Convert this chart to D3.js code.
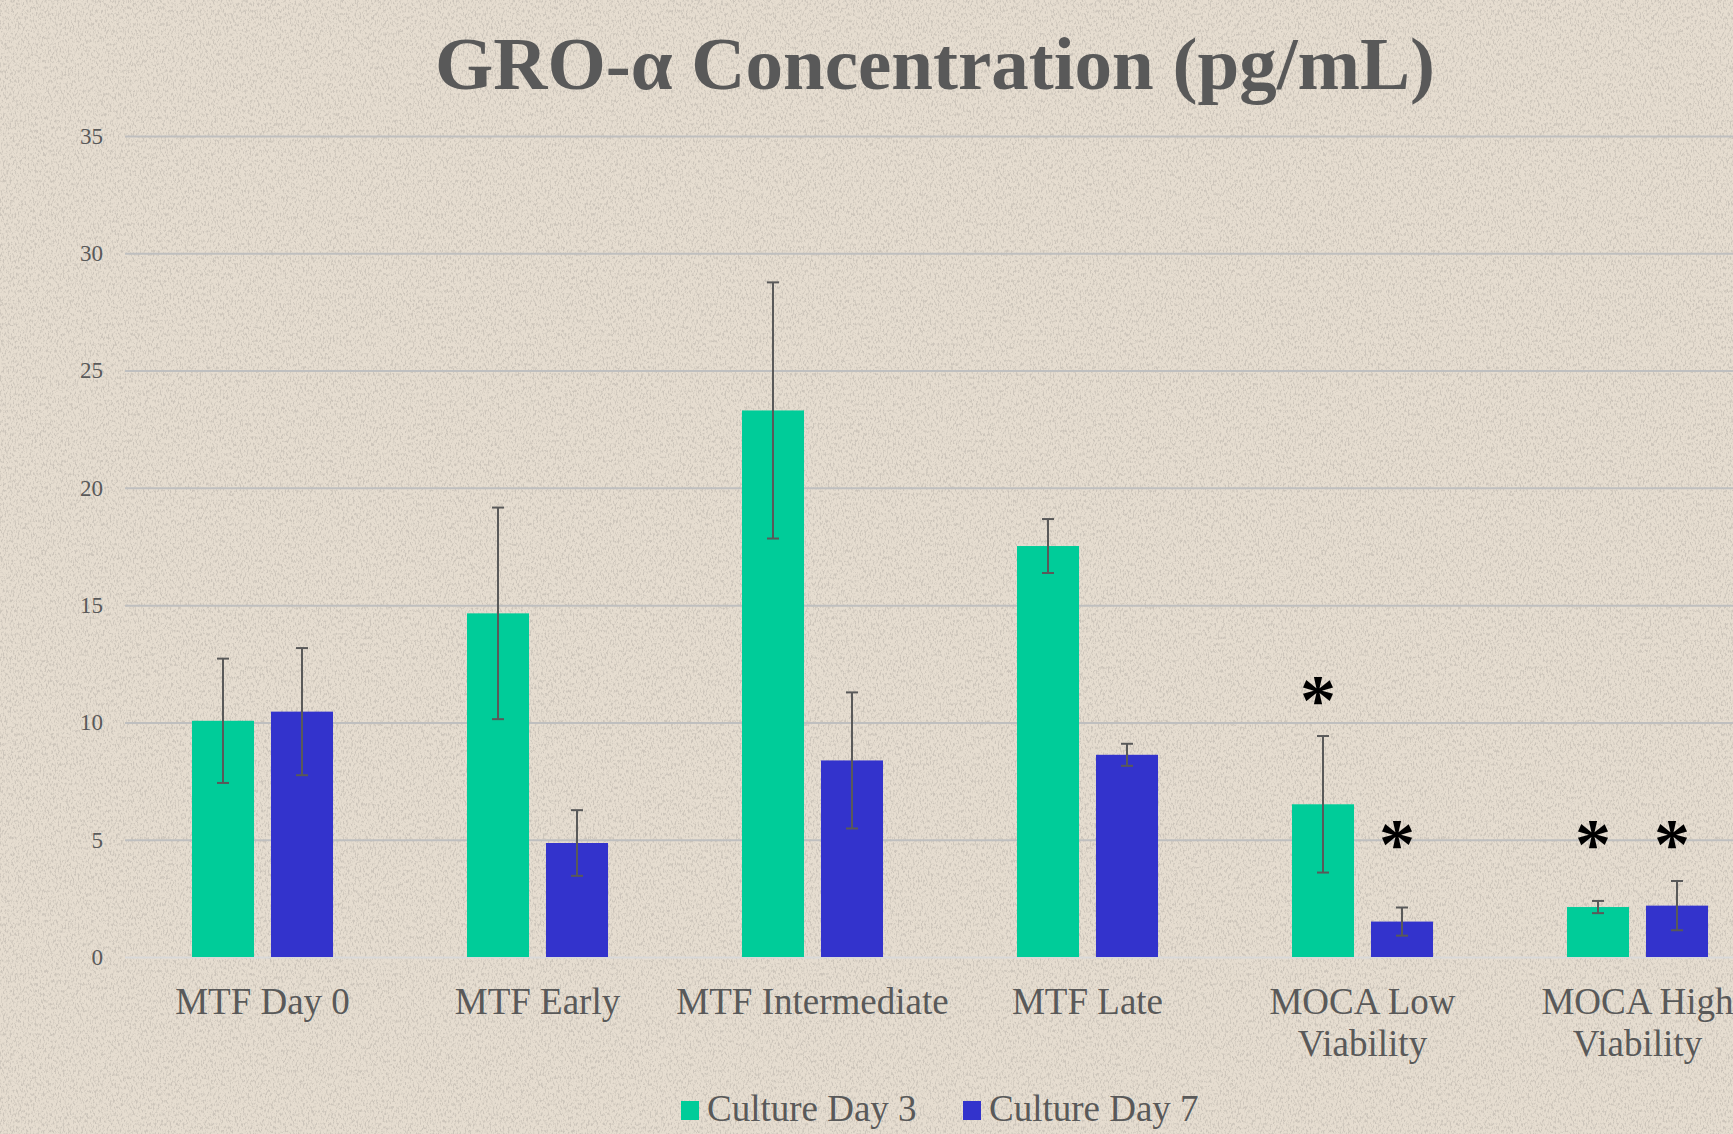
<!DOCTYPE html>
<html>
<head>
<meta charset="utf-8">
<script src="https://cdn.jsdelivr.net/npm/d3@7"></script>
<style>
  html, body { margin: 0; padding: 0; background: #e6ddd0; overflow: hidden; }
  text { font-family: "Liberation Serif", "Times New Roman", serif; }
</style>
</head>
<body>
<div id="root"></div>
<script>
// chart data
const categories = ['MTF Day 0', 'MTF Early', 'MTF Intermediate', 'MTF Late', 'MOCA Low Viability', 'MOCA High Viability'];
const categoryLines = [['MTF Day 0'], ['MTF Early'], ['MTF Intermediate'], ['MTF Late'], ['MOCA Low', 'Viability'], ['MOCA High', 'Viability']];
const seriesNames = ['Culture Day 3', 'Culture Day 7'];
const day3Values = [10.07, 14.65, 23.3, 17.52, 6.51, 2.13];
const day3Errors = [2.65, 4.51, 5.46, 1.15, 2.91, 0.26];
const day7Values = [10.46, 4.86, 8.38, 8.62, 1.51, 2.19];
const day7Errors = [2.71, 1.4, 2.9, 0.47, 0.6, 1.05];
const yTicks = [0, 5, 10, 15, 20, 25, 30, 35];
// significance stars: category index, series index, level in pg/mL
const starCategory = [4, 4, 5, 5];
const starSeries = [0, 1, 0, 1];
const starLevel = [11.4, 5.25, 5.25, 5.25];

const colors = ['#00cc99', '#3333cc'];
const width = 1733, height = 1134;
const margin = { left: 125, top: 136, bottom: 957 };
const bandWidth = 275;

const svg = d3.select('#root')
  .append('svg')
  .attr('width', width)
  .attr('height', height)
  .attr('viewBox', [0, 0, width, height]);

// paper-like background with a bit of speckle
const defs = svg.append('defs');
const paper = defs.append('filter').attr('id', 'paper')
  .attr('x', 0).attr('y', 0).attr('width', '100%').attr('height', '100%');
paper.append('feTurbulence')
  .attr('type', 'fractalNoise')
  .attr('baseFrequency', '0.6 0.3')
  .attr('numOctaves', 3)
  .attr('seed', 7);
paper.append('feColorMatrix')
  .attr('type', 'matrix')
  .attr('values', '0 0 0 0 0.42  0 0 0 0 0.39  0 0 0 0 0.35  4 0 0 0 -1.9');

svg.append('rect').attr('width', width).attr('height', height).attr('fill', '#e6ddd0');
svg.append('rect').attr('width', width).attr('height', height)
  .attr('filter', 'url(#paper)').attr('opacity', 0.45);

const x = d3.scaleBand()
  .domain(categories)
  .range([margin.left, margin.left + bandWidth * categories.length]);

const xInner = d3.scaleBand()
  .domain(seriesNames)
  .range([0, x.bandwidth()])
  .paddingInner(0.215)
  .paddingOuter(0.848);

const y = d3.scaleLinear()
  .domain([0, 35])
  .range([margin.bottom, margin.top]);

// gridlines + y labels
const yAxis = d3.axisLeft(y)
  .tickValues(yTicks)
  .tickSize(-(width - margin.left + 60))
  .tickPadding(22);

svg.append('g')
  .attr('transform', `translate(${margin.left},0)`)
  .call(yAxis)
  .call((g) => g.select('.domain').remove())
  .call((g) => g.selectAll('.tick line')
    .attr('stroke', (d) => d === 0 ? '#d9d9d9' : '#bfbfbf')
    .attr('stroke-width', 2))
  .call((g) => g.selectAll('.tick text')
    .attr('fill', '#595959')
    .attr('font-size', 23)
    .attr('font-family', '"DejaVu Serif", serif'));

const rows = categories.map((c, i) => ({
  category: c,
  values: [
    { series: seriesNames[0], value: day3Values[i], err: day3Errors[i], color: colors[0] },
    { series: seriesNames[1], value: day7Values[i], err: day7Errors[i], color: colors[1] }
  ]
}));

const groups = svg.append('g')
  .selectAll('g')
  .data(rows)
  .join('g')
  .attr('transform', (d) => `translate(${x(d.category)},0)`);

groups.selectAll('rect')
  .data((d) => d.values)
  .join('rect')
  .attr('x', (d) => xInner(d.series))
  .attr('width', xInner.bandwidth())
  .attr('y', (d) => y(d.value))
  .attr('height', (d) => y(0) - y(d.value))
  .attr('fill', (d) => d.color);

// error bars
const errs = groups.selectAll('g.err')
  .data((d) => d.values)
  .join('g')
  .attr('class', 'err')
  .attr('stroke', '#595959')
  .attr('stroke-width', 2)
  .attr('transform', (d) => `translate(${xInner(d.series) + xInner.bandwidth() / 2},0)`);

errs.append('line')
  .attr('y1', (d) => y(d.value + d.err))
  .attr('y2', (d) => y(d.value - d.err));
errs.append('line')
  .attr('x1', -6).attr('x2', 6)
  .attr('y1', (d) => y(d.value + d.err))
  .attr('y2', (d) => y(d.value + d.err));
errs.append('line')
  .attr('x1', -6).attr('x2', 6)
  .attr('y1', (d) => y(d.value - d.err))
  .attr('y2', (d) => y(d.value - d.err));

// significance asterisks (sit a touch left of the bar centre)
svg.append('g')
  .selectAll('text')
  .data(starLevel.map((v, i) => ({ c: categories[starCategory[i]], s: seriesNames[starSeries[i]], v })))
  .join('text')
  .attr('x', (d) => x(d.c) + xInner(d.s) + xInner.bandwidth() / 2 - 5)
  .attr('y', (d) => y(d.v) + 34)
  .attr('text-anchor', 'middle')
  .attr('font-size', 72)
  .attr('font-weight', 'bold')
  .attr('fill', '#000')
  .text('*');

// category labels
svg.append('g')
  .selectAll('text')
  .data(categories)
  .join('text')
  .attr('x', (d) => x(d) + x.bandwidth() / 2)
  .attr('y', 1014)
  .attr('text-anchor', 'middle')
  .attr('font-size', 37)
  .attr('fill', '#595959')
  .selectAll('tspan')
  .data((d, i) => categoryLines[i])
  .join('tspan')
  .attr('x', function () { return d3.select(this.parentNode).attr('x'); })
  .attr('dy', (d, i) => i === 0 ? 0 : 42)
  .text((d) => d);

// title
svg.append('text')
  .attr('x', 935)
  .attr('y', 89)
  .attr('text-anchor', 'middle')
  .attr('font-size', 75)
  .attr('font-weight', 'bold')
  .attr('fill', '#595959')
  .text('GRO-α Concentration (pg/mL)');

// legend
const legend = svg.append('g')
  .selectAll('g')
  .data(seriesNames)
  .join('g')
  .attr('transform', (d, i) => `translate(${[681, 963][i]},1101)`);

legend.append('rect')
  .attr('width', 18)
  .attr('height', 19)
  .attr('fill', (d, i) => colors[i]);

legend.append('text')
  .attr('x', 26)
  .attr('y', 20)
  .attr('font-size', 37)
  .attr('fill', '#595959')
  .text((d) => d);
</script>
</body>
</html>
